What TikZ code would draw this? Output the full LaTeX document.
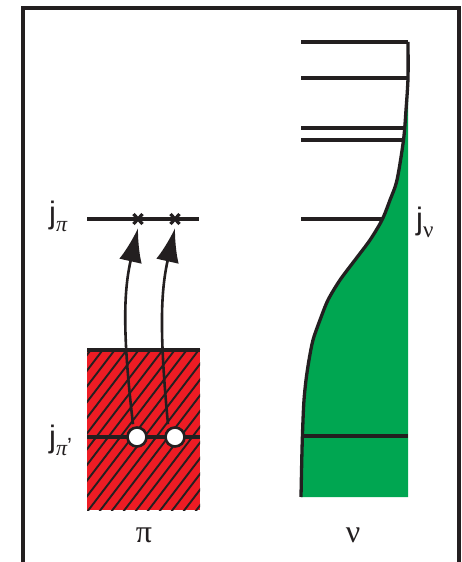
\documentclass[tikz,border=0pt]{standalone}
\usepackage{fontspec}
\setmainfont{Liberation Sans}
\newfontfamily\grk{Liberation Serif}
\usetikzlibrary{arrows.meta,calc}
\definecolor{fillred}{HTML}{ED1C24}
\definecolor{fillgreen}{HTML}{00A651}
\definecolor{ink}{HTML}{231F20}
\newcommand{\subgrk}[1]{\raisebox{-8pt}{\grk\itshape\fontsize{22}{24}\selectfont #1}}
\newcommand{\subgrkup}[1]{\raisebox{-8pt}{\grk\fontsize{23}{25}\selectfont #1}}
\tikzset{
  frameline/.style={draw=ink, line width=3.6pt},
  level/.style={draw=ink, line width=3.3pt},
  hatch/.style={draw=ink, line width=1.9pt},
  jumparrow/.style={draw=ink, line width=2.6pt, -{Latex[length=34pt,width=23pt]}},
  hole/.style={circle, draw=ink, fill=white, line width=2.6pt, minimum size=19pt, inner sep=0pt},
  crossmark/.style={draw=ink, line width=3.2pt},
  lbl/.style={inner sep=0pt, font=\fontsize{31}{33}\selectfont, text=ink},
  biglbl/.style={inner sep=0pt, font=\grk\fontsize{32}{34}\selectfont, text=ink},
}
\begin{document}
\begin{tikzpicture}[x=1pt,y=-1pt]
\useasboundingbox (0,0) rectangle (462,562);
% frame
\draw[frameline] (23,565) -- (23,8) -- (459,8) -- (459,565);

% ---- proton side ----
\fill[fillred] (87,349) rectangle (200,510);
\begin{scope}
  \clip (87,349) rectangle (200,510);
  \foreach \i in {-12,...,10} {
    \draw[hatch] (87+\i*12,512) -- ++(126,-165);
  }
\end{scope}
\draw[level] (87,350) -- (200,350);
\draw[level] (87,437) -- (200,437);
\draw[level] (87,219) -- (199,219);

\coordinate (x1) at (138,219);
\coordinate (x2) at (175,219);
\foreach \c in {x1,x2} {
  \draw[crossmark] ($(\c)+(-4.5,-5)$) -- ($(\c)+(4.5,5)$);
  \draw[crossmark] ($(\c)+(-4.5,5)$) -- ($(\c)+(4.5,-5)$);
}

\node[hole] (h1) at (137,437) {};
\node[hole] (h2) at (175,437) {};

\draw[jumparrow] ($(h1.north)+(-4,-2)$) .. controls (122,330) and (124,290) .. ($(x1)+(0,9)$);
\draw[jumparrow] ($(h2.north)+(-7,-2)$) .. controls (159,330) and (161,290) .. ($(x2)+(0,9)$);

\node[lbl, anchor=base west] (jpi) at (49,223) {j\subgrk{π}};
\node[lbl, anchor=base west] (jpip) at (49,447) {j\subgrk{π}\raisebox{-6pt}{\fontsize{22}{24}\selectfont ’}};
\node[biglbl] (pi) at (144,535) {π};

% ---- neutron side ----
\def\curvepts{(408,42) (408,78) (406,110) (403.5,140) (397,180) (390,200) (382,220) (370,240) (355,260) (340,280) (328,300) (320,320) (313,340) (309,360) (306,380) (304,400) (303,420) (302,450) (301,497)}
\fill[fillgreen] plot[smooth] coordinates {\curvepts} -- (408,497) -- cycle;
\draw[level] (301,42) -- (408,42);
\draw[level] (301,78) -- (408,78);
\draw[level] (301,128) -- (404,128);
\draw[level] (301,140) -- (403,140);
\draw[level] (301,219) -- (382,219);
\draw[level] (301,436) -- (408,436);
\draw[level, line join=round] plot[smooth] coordinates {\curvepts};

\node[lbl, anchor=base west] (jnu) at (416,229) {j\subgrkup{ν}};
\node[biglbl] (nu) at (353,535) {ν};
\end{tikzpicture}
\end{document}
